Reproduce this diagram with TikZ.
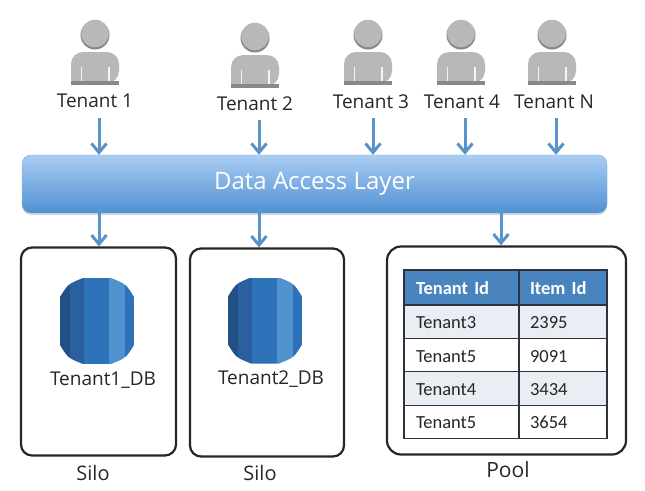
\documentclass[tikz,border=0pt]{standalone}
\usepackage{fontspec}
\setmainfont{Carlito}
\newfontfamily\labelfont{Open Sans}
\usetikzlibrary{arrows.meta,positioning,shadows}
\definecolor{flowcol}{RGB}{88,146,200}
\definecolor{bartop}{RGB}{170,205,243}
\definecolor{barbot}{RGB}{80,144,210}
\definecolor{headcol}{RGB}{74,132,190}
\definecolor{rowcol}{RGB}{233,237,244}
\definecolor{gridcol}{RGB}{45,50,60}
\definecolor{mancol}{RGB}{184,184,186}
\definecolor{mandark}{RGB}{136,136,138}
\definecolor{db1}{RGB}{33,80,134}
\definecolor{db2}{RGB}{42,96,158}
\definecolor{db3}{RGB}{46,115,186}
\definecolor{db4}{RGB}{80,146,206}
\tikzset{
  % person icon above each tenant
  tenanticon/.pic={
    \fill[mandark] (0,0) circle (14.5);
    \fill[mancol] (0,-1.5) circle (13.8);
    \fill[mancol] (-24,48) {[rounded corners=12pt] -- (-24,17) -- (24,17) -- (24,48)} -- cycle;
    \fill[mandark] (-24,46) rectangle (24,50);
    \fill[white!85!mancol] (-14.5,32) rectangle (-13.3,46);
    \fill[white!85!mancol] (13.3,32) rectangle (14.5,46);
  },
  % database barrel
  dbicon/.pic={
    \begin{scope}
      \clip (-14,-43) -- (14,-43) .. controls (29,-37) .. (37,-24) -- (37,24) .. controls (29,37) .. (14,43)
        -- (-14,43) .. controls (-29,37) .. (-37,24) -- (-37,-24) .. controls (-29,-37) .. (-14,-43) -- cycle;
      \fill[db1] (-37,-43) rectangle (-27,43);
      \fill[db2] (-27,-43) rectangle (-13,43);
      \fill[db3] (-13,-43) rectangle (12,43);
      \fill[db4] (12,-43) rectangle (28,43);
      \fill[db3] (28,-43) rectangle (37,43);
    \end{scope}
  },
  % shared layer bar
  layerbar/.style={rectangle, rounded corners=9pt, top color=bartop, bottom color=barbot, draw=barbot!50!bartop,
                   minimum width=585pt, minimum height=58pt, text=white, font=\labelfont\fontsize{24}{26}\selectfont,
                   drop shadow={opacity=0.3, shadow xshift=0pt, shadow yshift=-2pt}},
  % storage container
  storebox/.style={rectangle, rounded corners=#1, draw=black!85, line width=2.2pt, fill=white},
  storebox/.default={11pt},
  % text under icons
  tlabel/.style={font=\labelfont\fontsize{19}{21}\selectfont, text=black!85, inner sep=0pt},
  % arrows in and out of the bar
  flowarrow/.style={-{Straight Barb[length=9pt,width=15pt]}, line width=3pt, flowcol},
  % table cells
  tcell/.style={rectangle, draw=gridcol, line width=1.1pt, minimum height=33.4pt, inner xsep=0pt, inner ysep=0pt,
                outer sep=0pt, text width=#1, align=left, text height=15pt, text depth=1pt,
                font=\fontsize{18.5}{20}\selectfont, text=black!85},
  tcell/.default={},
}
\begin{document}
\begin{tikzpicture}[x=1pt, y=-1pt]
  \useasboundingbox (0,0) rectangle (645,490);

  % -- Tenants --
  \pic at (95,35) {tenanticon};
  \pic at (255,38) {tenanticon};
  \pic at (368,35) {tenanticon};
  \pic at (461,35) {tenanticon};
  \pic at (552,35) {tenanticon};
  \node[tlabel] (t1) at (95,100.5) {Tenant 1};
  \node[tlabel] (t2) at (255,103.5) {Tenant 2};
  \node[tlabel] (t3) at (371,101.5) {Tenant 3};
  \node[tlabel] (t4) at (462,101.5) {Tenant 4};
  \node[tlabel] (tn) at (554,101.5) {Tenant N};

  % -- Storage boxes --
  \node[storebox, minimum width=155pt, minimum height=208pt] (silo1) at (98.5,351.5) {};
  \node[storebox, minimum width=154pt, minimum height=208pt] (silo2) at (267,352.5) {};
  \node[storebox=14pt, minimum width=239pt, minimum height=208pt] (pool) at (506.5,350.5) {};

  % -- Arrows --
  \coordinate (a1) at (99,118);
  \coordinate (a2) at (259,120);
  \coordinate (a3) at (373,118);
  \coordinate (a4) at (465,118);
  \coordinate (an) at (556,118);
  \coordinate (p1) at (501,213);
  \node[layerbar] (bar) at (314.5,184) {Data Access Layer};
  \draw[flowarrow] (a1) -- (a1 |- bar.north);
  \draw[flowarrow] (a2) -- (a2 |- bar.north);
  \draw[flowarrow] (a3) -- (a3 |- bar.north);
  \draw[flowarrow] (a4) -- (a4 |- bar.north);
  \draw[flowarrow] (an) -- (an |- bar.north);
  \draw[flowarrow] (a1 |- bar.south) -- (a1 |- silo1.north);
  \draw[flowarrow] (a2 |- bar.south) -- (a2 |- silo2.north);
  \draw[flowarrow] (p1 |- bar.south) -- (p1 |- pool.north);

  % -- Silo databases --
  \pic at (97,321) {dbicon};
  \pic at (265,320.5) {dbicon};
  \node[tlabel] (db1) at (103,380.5) {Tenant1\_DB};
  \node[tlabel] (db2) at (271,379.5) {Tenant2\_DB};

  % -- Pool table --
  \node[tcell=115pt, fill=headcol, text=white, minimum height=35pt, font=\fontsize{18.5}{20}\selectfont\bfseries] (h1) at (461.5,287.5) {\hspace*{12pt}Tenant Id};
  \node[tcell=88pt, fill=headcol, text=white, minimum height=35pt, font=\fontsize{18.5}{20}\selectfont\bfseries,
        right=0pt of h1] (h2) {\hspace*{11pt}Item Id};
  \node[tcell=115pt, fill=rowcol, below=0pt of h1] (c11) {\hspace*{12pt}Tenant3};
  \node[tcell=88pt, fill=rowcol, right=0pt of c11] (c12) {\hspace*{11pt}2395};
  \node[tcell=115pt, below=0pt of c11] (c21) {\hspace*{12pt}Tenant5};
  \node[tcell=88pt, right=0pt of c21] (c22) {\hspace*{11pt}9091};
  \node[tcell=115pt, fill=rowcol, below=0pt of c21] (c31) {\hspace*{12pt}Tenant4};
  \node[tcell=88pt, fill=rowcol, right=0pt of c31] (c32) {\hspace*{11pt}3434};
  \node[tcell=115pt, below=0pt of c31] (c41) {\hspace*{12pt}Tenant5};
  \node[tcell=88pt, right=0pt of c41] (c42) {\hspace*{11pt}3654};

  % -- Captions --
  \node[tlabel, font=\labelfont\fontsize{20}{22}\selectfont] (s1) at (93,473) {Silo};
  \node[tlabel, font=\labelfont\fontsize{20}{22}\selectfont] (s2) at (260,473) {Silo};
  \node[tlabel, font=\labelfont\fontsize{21}{23}\selectfont] (s3) at (508,470) {Pool};
\end{tikzpicture}
\end{document}
